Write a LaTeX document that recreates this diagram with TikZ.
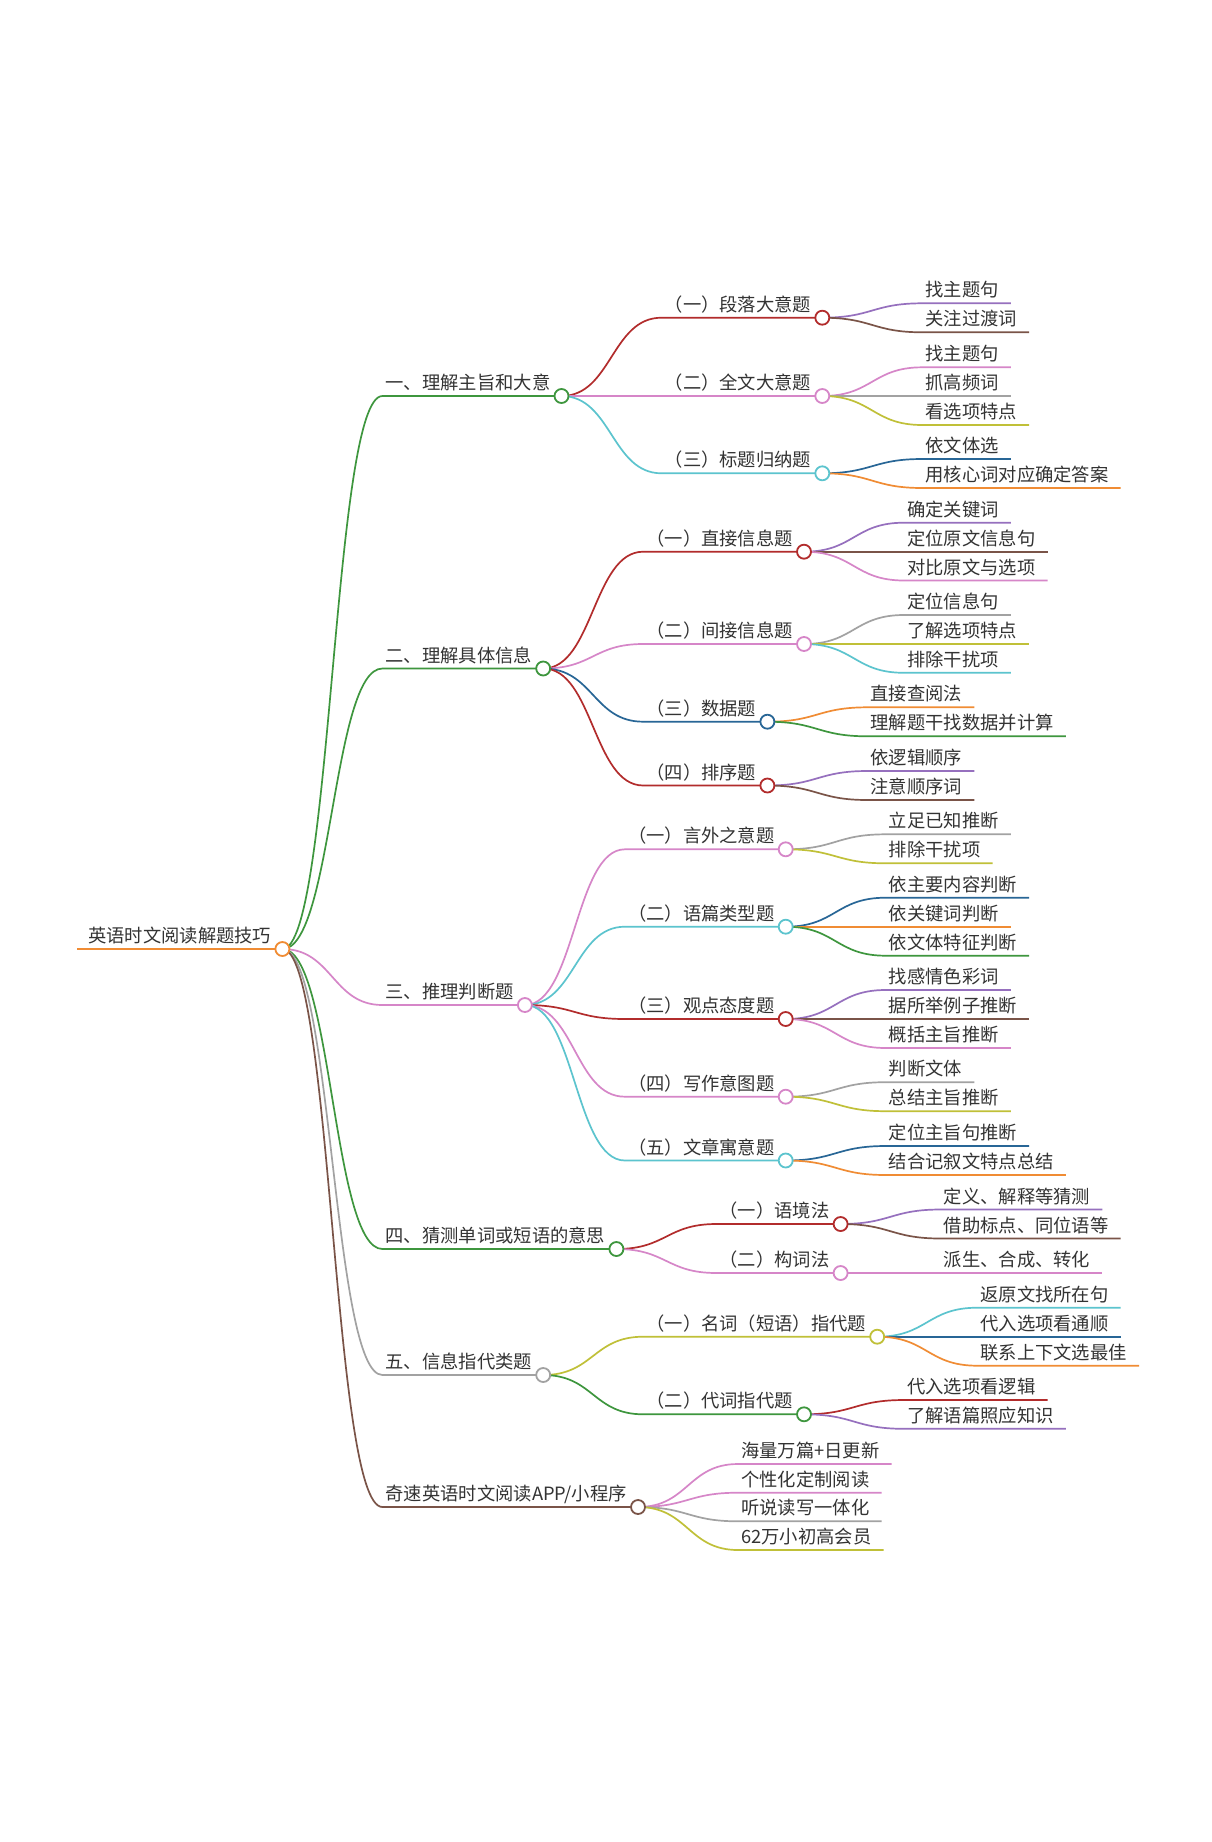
\documentclass[tikz,border=0pt]{standalone}
\usepackage{fontspec}
\newfontfamily\cjk{Noto Sans CJK SC}
\usetikzlibrary{calc}
\pgfdeclarelayer{bg}
\pgfsetlayers{bg,main}
\definecolor{cgreen}{RGB}{62,150,62}
\definecolor{corange}{RGB}{240,140,52}
\definecolor{cred}{RGB}{178,44,44}
\definecolor{cpink}{RGB}{214,134,200}
\definecolor{ccyan}{RGB}{92,196,206}
\definecolor{cblue}{RGB}{40,102,150}
\definecolor{cpurple}{RGB}{150,112,190}
\definecolor{cbrown}{RGB}{122,84,72}
\definecolor{cgray}{RGB}{162,162,162}
\definecolor{colive}{RGB}{192,192,56}
\definecolor{textc}{RGB}{51,51,51}
\tikzset{
  txt/.style={anchor=base west, inner sep=0pt, font=\cjk\fontsize{18.3}{22}\selectfont, text=textc},
  hub/.style={circle, draw, fill=white, line width=1.8pt, minimum size=14pt, inner sep=0pt},
  edge/.style={line width=1.7pt},
}
\newcommand\Hub[5]{%
  \coordinate (#2-s) at ($(#1.center |- 0,#3)+(100,0)$);
  \node[txt] (#2-t) at ($(#2-s)+(3,-6.5)$) {#5};
  \node[hub,draw=#4] (#2) at ($(#2-t.base east)+(11,6.5)$) {};
  \begin{pgfonlayer}{bg}
  \draw[edge,#4] (#1.center) .. controls ($(#1.center)+(50,0)$) and ($(#2-s)+(-50,0)$) .. (#2-s) -- (#2.center);
  \end{pgfonlayer}
}
\newcommand\Leaf[5]{%
  \coordinate (#2-s) at ($(#1.center |- 0,#3)+(100,0)$);
  \node[txt] (#2) at ($(#2-s)+(3,-6.5)$) {#5};
  \coordinate (#2-e) at ($(#2.base east)+(12,6.5)$);
  \begin{pgfonlayer}{bg}
  \draw[edge,#4] (#1.center) .. controls ($(#1.center)+(50,0)$) and ($(#2-s)+(-50,0)$) .. (#2-s) -- (#2-e);
  \end{pgfonlayer}
}
\begin{document}
\begin{tikzpicture}[x=1pt,y=-1pt]
\begin{pgfonlayer}{bg}
\fill[white] (0,0) rectangle (1212,1842);
\end{pgfonlayer}
\useasboundingbox (0,0) rectangle (1212,1842);
% root
\node[txt] (root-t) at (88,942.5) {英语时文阅读解题技巧};
\node[hub,draw=corange] (root) at ($(root-t.base east)+(11,6.5)$) {};
\coordinate (root-s) at (77,949);
\begin{pgfonlayer}{bg}
\draw[edge,corange] (root-s) -- (root.center);
\end{pgfonlayer}
% level 1
\Hub{root}{h1}{396}{cgreen}{一、理解主旨和大意}
\Hub{root}{h2}{668.5}{cgreen}{二、理解具体信息}
\Hub{root}{h3}{1005}{cpink}{三、推理判断题}
\Hub{root}{h4}{1249}{cgreen}{四、猜测单词或短语的意思}
\Hub{root}{h5}{1375}{cgray}{五、信息指代类题}
\Hub{root}{h6}{1507}{cbrown}{奇速英语时文阅读APP/小程序}
% branch 1
\Hub{h1}{h11}{317.7}{cred}{（一）段落大意题}
\Leaf{h11}{l111}{303.3}{cpurple}{找主题句}
\Leaf{h11}{l112}{332.3}{cbrown}{关注过渡词}
\Hub{h1}{h12}{396}{cpink}{（二）全文大意题}
\Leaf{h12}{l121}{367.3}{cpink}{找主题句}
\Leaf{h12}{l122}{396}{cgray}{抓高频词}
\Leaf{h12}{l123}{425}{colive}{看选项特点}
\Hub{h1}{h13}{473.3}{ccyan}{（三）标题归纳题}
\Leaf{h13}{l131}{459}{cblue}{依文体选}
\Leaf{h13}{l132}{488}{corange}{用核心词对应确定答案}
% branch 2
\Hub{h2}{h21}{551.7}{cred}{（一）直接信息题}
\Leaf{h21}{l211}{522.7}{cpurple}{确定关键词}
\Leaf{h21}{l212}{551.7}{cbrown}{定位原文信息句}
\Leaf{h21}{l213}{580.5}{cpink}{对比原文与选项}
\Hub{h2}{h22}{644}{cpink}{（二）间接信息题}
\Leaf{h22}{l221}{615}{cgray}{定位信息句}
\Leaf{h22}{l222}{644}{colive}{了解选项特点}
\Leaf{h22}{l223}{672.8}{ccyan}{排除干扰项}
\Hub{h2}{h23}{721.7}{cblue}{（三）数据题}
\Leaf{h23}{l231}{707.3}{corange}{直接查阅法}
\Leaf{h23}{l232}{736.3}{cgreen}{理解题干找数据并计算}
\Hub{h2}{h24}{785.5}{cred}{（四）排序题}
\Leaf{h24}{l241}{771}{cpurple}{依逻辑顺序}
\Leaf{h24}{l242}{800}{cbrown}{注意顺序词}
% branch 3
\Hub{h3}{h31}{849.3}{cpink}{（一）言外之意题}
\Leaf{h31}{l311}{834.3}{cgray}{立足已知推断}
\Leaf{h31}{l312}{863.3}{colive}{排除干扰项}
\Hub{h3}{h32}{926.7}{ccyan}{（二）语篇类型题}
\Leaf{h32}{l321}{897.7}{cblue}{依主要内容判断}
\Leaf{h32}{l322}{926.7}{corange}{依关键词判断}
\Leaf{h32}{l323}{955.7}{cgreen}{依文体特征判断}
\Hub{h3}{h33}{1019}{cred}{（三）观点态度题}
\Leaf{h33}{l331}{990}{cpurple}{找感情色彩词}
\Leaf{h33}{l332}{1019}{cbrown}{据所举例子推断}
\Leaf{h33}{l333}{1048}{cpink}{概括主旨推断}
\Hub{h3}{h34}{1096.7}{cpink}{（四）写作意图题}
\Leaf{h34}{l341}{1082.2}{cgray}{判断文体}
\Leaf{h34}{l342}{1111.2}{colive}{总结主旨推断}
\Hub{h3}{h35}{1160.5}{ccyan}{（五）文章寓意题}
\Leaf{h35}{l351}{1146}{cblue}{定位主旨句推断}
\Leaf{h35}{l352}{1175}{corange}{结合记叙文特点总结}
% branch 4
\Hub{h4}{h41}{1224}{cred}{（一）语境法}
\Leaf{h41}{l411}{1209.5}{cpurple}{定义、解释等猜测}
\Leaf{h41}{l412}{1238.5}{cbrown}{借助标点、同位语等}
\Hub{h4}{h42}{1273}{cpink}{（二）构词法}
\Leaf{h42}{l421}{1273}{cpink}{派生、合成、转化}
% branch 5
\Hub{h5}{h51}{1336.7}{colive}{（一）名词（短语）指代题}
\Leaf{h51}{l511}{1307.7}{ccyan}{返原文找所在句}
\Leaf{h51}{l512}{1336.7}{cblue}{代入选项看通顺}
\Leaf{h51}{l513}{1365.7}{corange}{联系上下文选最佳}
\Hub{h5}{h52}{1414.3}{cgreen}{（二）代词指代题}
\Leaf{h52}{l521}{1400}{cred}{代入选项看逻辑}
\Leaf{h52}{l522}{1428.8}{cpurple}{了解语篇照应知识}
% branch 6
\Leaf{h6}{l61}{1464}{cpink}{海量万篇+日更新}
\Leaf{h6}{l62}{1492.7}{cpink}{个性化定制阅读}
\Leaf{h6}{l63}{1521.3}{cgray}{听说读写一体化}
\Leaf{h6}{l64}{1550}{colive}{62万小初高会员}
\end{tikzpicture}
\end{document}
